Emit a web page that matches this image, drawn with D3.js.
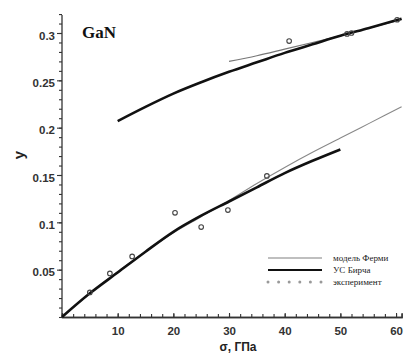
<!DOCTYPE html>
<html><head><meta charset="utf-8">
<script src="https://cdn.jsdelivr.net/npm/d3@7"></script>
<style>body{margin:0;background:#fff}svg{display:block}</style>
</head><body><svg id="c" width="404" height="355"></svg>
<script>
const xTicks = [10, 20, 30, 40, 50, 60];
const yTicks = [0.05, 0.1, 0.15, 0.2, 0.25, 0.3];
const birchLowSigma = [0, 5, 10, 15, 20, 25, 30, 35, 40, 45, 50];
const birchLowY     = [0, 0.025, 0.047, 0.069, 0.090, 0.107, 0.122, 0.137, 0.152, 0.165, 0.177];
const fermiLowSigma = [0, 5, 10, 15, 20, 25, 30, 35, 40, 45, 50, 55, 61];
const fermiLowY     = [0, 0.025, 0.048, 0.069, 0.089, 0.106, 0.123, 0.141, 0.158, 0.174, 0.189, 0.204, 0.222];
const birchUpSigma = [10, 15, 20, 25, 30, 35, 40, 45, 50, 55, 61];
const birchUpY     = [0.207, 0.222, 0.236, 0.248, 0.259, 0.269, 0.279, 0.288, 0.297, 0.305, 0.315];
const fermiUpSigma = [30, 35, 40, 45, 50, 55, 61];
const fermiUpY     = [0.270, 0.276, 0.283, 0.290, 0.297, 0.305, 0.314];
const expSigma = [5.0, 8.6, 12.6, 20.3, 25.0, 29.8, 36.8, 40.8, 51.2, 52.0, 60.2];
const expY     = [0.026, 0.046, 0.064, 0.110, 0.095, 0.113, 0.149, 0.2915, 0.299, 0.300, 0.314];
const legendLabels = ["модель Ферми", "УС Бирча", "эксперимент"];

const svg = d3.select("#c");
const x = d3.scaleLinear().domain([0, 61]).range([62, 401.6]);
const y = d3.scaleLinear().domain([0, 0.3]).range([317, 33]);

const line = d3.line().x(d => x(d[0])).y(d => y(d[1])).curve(d3.curveMonotoneX);
const zip = (a, b) => a.map((v, i) => [v, b[i]]);

// axes
const gx = svg.append("g").attr("transform", "translate(0,317)");
gx.call(d3.axisBottom(x).tickValues(d3.range(0, 61, 2)).tickSize(-3).tickFormat(""));
const gx2 = svg.append("g").attr("transform", "translate(0,317)");
gx2.call(d3.axisBottom(x).tickValues(xTicks).tickSize(-4).tickPadding(8).tickFormat(d3.format("d")));
[gx, gx2].forEach(g => g.select(".domain").attr("stroke", "#333").attr("stroke-width", 1.3));
gx2.selectAll("text").attr("font-family", "Arial, 'Liberation Sans', sans-serif").attr("font-size", 11.5).attr("fill", "#333").attr("dy", "0.9em").attr("font-weight", "bold");

const gy = svg.append("g").attr("transform", "translate(62,0)");
gy.call(d3.axisLeft(y).tickValues(d3.range(0, 0.321, 0.01)).tickSize(3).tickFormat(""));
gy.select(".domain").attr("d", `M0,${y(0)}V15`).attr("stroke", "#333").attr("stroke-width", 1.3);
const gy2 = svg.append("g").attr("transform", "translate(62,0)");
gy2.call(d3.axisLeft(y).tickValues(yTicks).tickSize(5).tickPadding(2).tickFormat(d => d3.format("")(+d.toFixed(2))));
gy2.select(".domain").remove();
svg.selectAll(".tick line").attr("stroke", "#333").attr("stroke-width", 1.1);
gy2.selectAll("text").attr("font-family", "Arial, 'Liberation Sans', sans-serif").attr("font-size", 11.5).attr("fill", "#333").attr("dy", "0.55em").attr("font-weight", "bold");

// curves
svg.append("path").attr("d", line(zip(fermiLowSigma, fermiLowY))).attr("fill", "none").attr("stroke", "#888").attr("stroke-width", 1.1);
svg.append("path").attr("d", line(zip(fermiUpSigma, fermiUpY))).attr("fill", "none").attr("stroke", "#777").attr("stroke-width", 1.2);
svg.append("path").attr("d", line(zip(birchLowSigma, birchLowY))).attr("fill", "none").attr("stroke", "#111").attr("stroke-width", 2.6);
svg.append("path").attr("d", line(zip(birchUpSigma, birchUpY))).attr("fill", "none").attr("stroke", "#111").attr("stroke-width", 2.6);

svg.append("g").selectAll("circle").data(zip(expSigma, expY)).join("circle")
  .attr("cx", d => x(d[0])).attr("cy", d => y(d[1])).attr("r", 2.3)
  .attr("fill", "none").attr("stroke", "#444").attr("stroke-width", 1.1);

// labels
svg.append("text").attr("x", 82).attr("y", 38).attr("font-family", "'Liberation Serif', 'Times New Roman', serif")
  .attr("font-weight", "bold").attr("font-size", 17).attr("fill", "#111").text("GaN");
svg.append("text").attr("transform", "translate(24,155) rotate(-90)").attr("text-anchor", "middle")
  .attr("font-family", "Arial, 'Liberation Sans', sans-serif").attr("font-weight", "bold").attr("font-size", 15).attr("fill", "#222").text("y");
svg.append("text").attr("x", 238).attr("y", 351).attr("text-anchor", "middle")
  .attr("font-family", "Arial, 'Liberation Sans', sans-serif").attr("font-weight", "bold").attr("font-size", 12).attr("fill", "#222").text("σ, ГПа");

// legend
const lg = svg.append("g");
const ly = [258, 270, 282];
lg.append("line").attr("x1", 268).attr("x2", 322).attr("y1", ly[0]).attr("y2", ly[0]).attr("stroke", "#aaa").attr("stroke-width", 1.3);
lg.append("line").attr("x1", 268).attr("x2", 322).attr("y1", ly[1]).attr("y2", ly[1]).attr("stroke", "#111").attr("stroke-width", 2.2);
lg.selectAll("circle").data(d3.range(6)).join("circle").attr("cx", i => 268 + i * 10.6).attr("cy", ly[2]).attr("r", 1.5).attr("fill", "#999");
lg.selectAll("text").data(legendLabels).join("text").attr("x", 333).attr("y", (d, i) => ly[i] + 3)
  .attr("font-family", "'Liberation Serif', 'Times New Roman', serif").attr("font-size", 9).attr("fill", "#222").text(d => d);
</script></body></html>
